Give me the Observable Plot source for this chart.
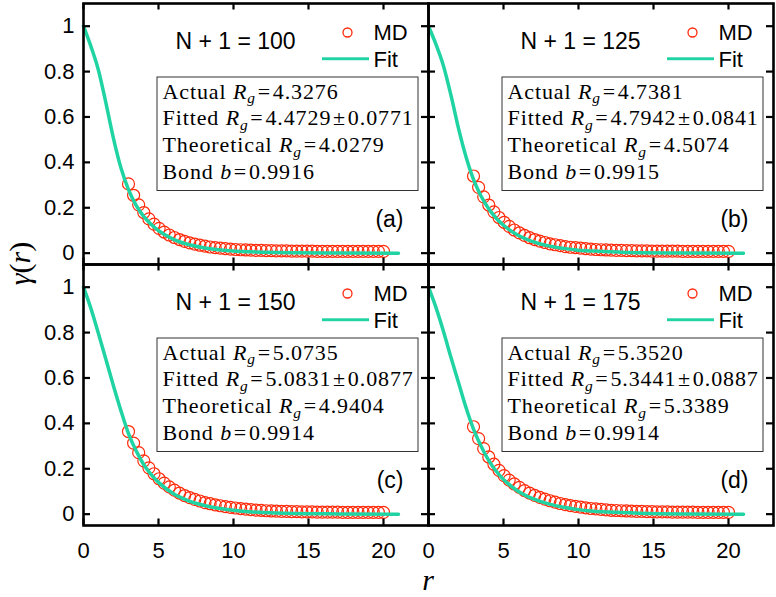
<!DOCTYPE html>
<html>
<head>
<meta charset="utf-8">
<script src="https://cdn.jsdelivr.net/npm/d3@7"></script>
<script src="https://cdn.jsdelivr.net/npm/@observablehq/plot@0.6"></script>
<style>
  body { margin: 0; background: #fff; }
  #chart { width: 776px; height: 597px; }
</style>
</head>
<body>
<div id="chart"></div>
<script>
// Panels and their statistics
const panelIds = ["a", "b", "c", "d"];
const chainLength = [100, 125, 150, 175];
const actualRg = ["4.3276", "4.7381", "5.0735", "5.3520"];
const fittedRg = ["4.4729", "4.7942", "5.0831", "5.3441"];
const fittedErr = ["0.0771", "0.0841", "0.0877", "0.0887"];
const theoryRg = ["4.0279", "4.5074", "4.9404", "5.3389"];
const bondB = ["0.9916", "0.9915", "0.9914", "0.9914"];

// Axis ticks
const xTicks = [0, 5, 10, 15, 20];
const yTicks = [0, 0.2, 0.4, 0.6, 0.8, 1];
const yTickLabels = ["0", "0.2", "0.4", "0.6", "0.8", "1"];

// Fitted curve, sampled in r
const fitR = [0, 0.5, 1, 1.5, 2, 2.5, 3, 3.5, 4, 4.5, 5, 6, 7, 8, 9, 10, 11, 12, 14, 17, 21];
const fitA = [1, 0.91, 0.805, 0.66, 0.505, 0.375, 0.28, 0.212, 0.163, 0.127, 0.099, 0.061, 0.038, 0.024, 0.015, 0.009, 0.006, 0.004, 0.002, 0.001, 0];
const fitB = [1, 0.92, 0.825, 0.695, 0.55, 0.425, 0.325, 0.252, 0.197, 0.155, 0.123, 0.078, 0.050, 0.032, 0.021, 0.013, 0.009, 0.006, 0.002, 0.001, 0];
const fitC = [1, 0.905, 0.795, 0.68, 0.565, 0.455, 0.355, 0.28, 0.22, 0.175, 0.14, 0.09, 0.059, 0.039, 0.026, 0.017, 0.011, 0.007, 0.003, 0.001, 0];
const fitD = [1, 0.91, 0.805, 0.69, 0.58, 0.47, 0.375, 0.30, 0.238, 0.19, 0.153, 0.10, 0.067, 0.045, 0.030, 0.020, 0.013, 0.009, 0.004, 0.001, 0];

// MD samples
const mdR = [3.00, 3.34, 3.68, 4.02, 4.36, 4.70, 5.04, 5.38, 5.72, 6.06, 6.40, 6.74, 7.08, 7.42, 7.76, 8.10, 8.44, 8.78, 9.12, 9.46, 9.80,
  10.14, 10.48, 10.82, 11.16, 11.50, 11.84, 12.18, 12.52, 12.86, 13.20, 13.54, 13.88, 14.22, 14.56, 14.90, 15.24, 15.58, 15.92,
  16.26, 16.60, 16.94, 17.28, 17.62, 17.96, 18.30, 18.64, 18.98, 19.32, 19.66, 20.00];
const mdA = [0.305, 0.255, 0.213, 0.179, 0.151, 0.128, 0.109, 0.093, 0.080, 0.069, 0.060, 0.052, 0.045, 0.040, 0.035, 0.031, 0.027, 0.024, 0.022, 0.020, 0.018,
  0.016, 0.015, 0.014, 0.013, 0.012, 0.012, 0.011, 0.011, 0.010, 0.010, 0.010, 0.009, 0.009, 0.009, 0.009, 0.009, 0.008, 0.008,
  0.008, 0.008, 0.008, 0.008, 0.008, 0.008, 0.008, 0.008, 0.008, 0.008, 0.008, 0.008];
const mdB = [0.340, 0.290, 0.248, 0.212, 0.182, 0.157, 0.136, 0.118, 0.102, 0.089, 0.078, 0.068, 0.060, 0.053, 0.047, 0.041, 0.037, 0.033, 0.029, 0.026, 0.024,
  0.022, 0.020, 0.018, 0.016, 0.015, 0.014, 0.013, 0.012, 0.012, 0.011, 0.011, 0.010, 0.010, 0.010, 0.009, 0.009, 0.009, 0.009,
  0.009, 0.009, 0.008, 0.008, 0.008, 0.008, 0.008, 0.008, 0.008, 0.008, 0.008, 0.008];
const mdC = [0.364, 0.313, 0.271, 0.235, 0.204, 0.178, 0.156, 0.137, 0.120, 0.106, 0.093, 0.082, 0.073, 0.065, 0.058, 0.051, 0.046, 0.041, 0.037, 0.033, 0.030,
  0.027, 0.024, 0.022, 0.020, 0.018, 0.017, 0.015, 0.014, 0.013, 0.012, 0.012, 0.011, 0.011, 0.010, 0.010, 0.010, 0.009, 0.009,
  0.009, 0.009, 0.009, 0.008, 0.008, 0.008, 0.008, 0.008, 0.008, 0.008, 0.008, 0.008];
const mdD = [0.385, 0.333, 0.289, 0.252, 0.220, 0.193, 0.170, 0.150, 0.133, 0.118, 0.104, 0.093, 0.083, 0.074, 0.066, 0.059, 0.053, 0.047, 0.042, 0.038, 0.034,
  0.031, 0.028, 0.025, 0.023, 0.021, 0.019, 0.017, 0.016, 0.015, 0.014, 0.013, 0.012, 0.012, 0.011, 0.011, 0.010, 0.010, 0.010,
  0.009, 0.009, 0.009, 0.009, 0.009, 0.008, 0.008, 0.008, 0.008, 0.008, 0.008, 0.008];

const fitSeries = [fitA, fitB, fitC, fitD];
const mdSeries = [mdA, mdB, mdC, mdD];

// --- tables for the marks (2 x 2 facet grid) ---
const panels = panelIds.map((id, i) => ({
  id, n: chainLength[i], col: i % 2, row: Math.floor(i / 2),
  lines: [
    `Actual *R*_{g}=${actualRg[i]}`,
    `Fitted *R*_{g}=${fittedRg[i]}±${fittedErr[i]}`,
    `Theoretical *R*_{g}=${theoryRg[i]}`,
    `Bond *b*=${bondB[i]}`
  ]
}));
const fitData = panels.flatMap((p, i) => fitR.map((r, k) => ({r, g: fitSeries[i][k], col: p.col, row: p.row})));
const mdData = panels.flatMap((p, i) => mdR.map((r, k) => ({r, g: mdSeries[i][k], col: p.col, row: p.row})));

// --- geometry ---
const W = 776, H = 597;
const mL = 83, mR = 3, mT = 2, mB = 72;
const FW = (W - mL - mR) / 2;   // facet width
const FH = (H - mT - mB) / 2;   // facet height
const tickLen = 7;

const RED = "#ff2a0a";
const TEAL = "#1fd3a3";
const SANS = "'Liberation Sans', Arial, Helvetica, sans-serif";
const SERIF = "'Liberation Serif', 'Times New Roman', serif";

const facetOpts = {fx: "col", fy: "row"};

const infoMarks = [0, 1, 2, 3].map(j => Plot.text(panels, {
  ...facetOpts,
  frameAnchor: "top-left",
  dx: 79, dy: 88 + j * 26.7,
  text: d => d.lines[j],
  textAnchor: "start", lineAnchor: "middle",
  fontFamily: SERIF, fontSize: 22, fill: "black"
}));

const chart = Plot.plot({
  width: W, height: H,
  marginLeft: mL, marginRight: mR, marginTop: mT, marginBottom: mB,
  style: {fontFamily: SANS, fontSize: "22px", background: "white", color: "black"},
  fx: {domain: [0, 1], padding: 0, axis: null},
  fy: {domain: [0, 1], padding: 0, axis: null},
  x: {domain: [0, 23], axis: null},
  y: {domain: [-0.05, 1.1], axis: null},
  marks: [
    // data
    Plot.dot(mdData, {x: "r", y: "g", ...facetOpts, r: 6, stroke: RED, strokeWidth: 1.2, fill: "none"}),
    Plot.line(fitData, {x: "r", y: "g", ...facetOpts, stroke: TEAL, strokeWidth: 3.5, curve: "monotone-x"}),

    // info box
    Plot.rect(panels, {...facetOpts, insetLeft: 74, insetRight: FW - 335, insetTop: 74, insetBottom: FH - 188,
      fill: "white", stroke: "#333", strokeWidth: 1}),
    ...infoMarks,

    // titles and panel letters
    Plot.text(panels, {...facetOpts, frameAnchor: "top-left", dx: 152, dy: 38, text: d => `N + 1 = ${d.n}`,
      textAnchor: "middle", lineAnchor: "middle", fontSize: 23, fill: "black"}),
    Plot.text(panels, {...facetOpts, frameAnchor: "bottom-right", dx: -25, dy: -45, text: d => `(${d.id})`,
      textAnchor: "end", lineAnchor: "middle", fontSize: 23, fill: "black"}),

    // legend
    Plot.dot(panels, {...facetOpts, frameAnchor: "top-left", dx: 264, dy: 29, r: 4.5, stroke: RED, strokeWidth: 1.3, fill: "none"}),
    Plot.text(panels, {...facetOpts, frameAnchor: "top-left", dx: 290, dy: 29, text: () => "MD",
      textAnchor: "start", lineAnchor: "middle", fontSize: 22, fill: "black"}),
    Plot.rect(panels, {...facetOpts, insetLeft: 239, insetRight: FW - 286, insetTop: 54.3, insetBottom: FH - 57.7, fill: TEAL}),
    Plot.text(panels, {...facetOpts, frameAnchor: "top-left", dx: 290, dy: 56, text: () => "Fit",
      textAnchor: "start", lineAnchor: "middle", fontSize: 22, fill: "black"}),

    // inward ticks on all four sides
    Plot.tickX(xTicks, {x: d => d, stroke: "black", strokeWidth: 2.2, insetTop: FH - tickLen}),
    Plot.tickX(xTicks, {x: d => d, stroke: "black", strokeWidth: 2.2, insetBottom: FH - tickLen}),
    Plot.tickY(yTicks, {y: d => d, stroke: "black", strokeWidth: 2.2, insetRight: FW - tickLen}),
    Plot.tickY(yTicks, {y: d => d, stroke: "black", strokeWidth: 2.2, insetLeft: FW - tickLen}),
    Plot.frame({stroke: "black", strokeWidth: 2.6}),

    // tick labels (bottom row / left column only)
    Plot.axisX(xTicks, {tickSize: 0, tickPadding: 17, fontSize: 22, fill: "black", label: null}),
    Plot.axisY(yTicks, {tickSize: 0, tickPadding: 9, fontSize: 22, fill: "black", label: null,
      tickFormat: d => yTickLabels[yTicks.indexOf(d)]})
  ]
});

// Rich text: *x* is italic, _{x} is an italic subscript; = and ± get a little math spacing
const SVGNS = "http://www.w3.org/2000/svg";
function richText(el) {
  const src = el.textContent;
  el.textContent = "";
  el.setAttribute("letter-spacing", "0.9");
  const re = /\*([^*]+)\*|_\{([^}]+)\}|([^*_]+)/g;
  let m, pendingDy = null, pendingDx = null;
  const add = (txt, attrs) => {
    const t = document.createElementNS(SVGNS, "tspan");
    t.textContent = txt;
    for (const k in attrs) t.setAttribute(k, attrs[k]);
    if (pendingDy != null && !("dy" in attrs)) { t.setAttribute("dy", pendingDy); pendingDy = null; }
    if (pendingDx != null && !("dx" in attrs)) { t.setAttribute("dx", pendingDx); pendingDx = null; }
    el.appendChild(t);
  };
  while ((m = re.exec(src))) {
    if (m[1]) add(m[1], {"font-style": "italic"});
    else if (m[2]) { add(m[2], {"font-style": "italic", "font-size": "70%", "dy": "0.3em"}); pendingDy = "-0.21em"; }
    else {
      for (const part of m[3].split(/([=±])/)) {
        if (!part) continue;
        if (part === "=" || part === "±") { add(part, {"dx": "0.08em"}); pendingDx = "0.08em"; }
        else add(part, {});
      }
    }
  }
}
d3.select(chart).selectAll("text")
  .filter(function() { return /\*|_\{/.test(this.textContent); })
  .each(function() { richText(this); });

// Shared axis titles
const svg = d3.select(chart);
const ylab = svg.append("text")
  .attr("transform", `translate(30, ${mT + FH}) rotate(-90)`)
  .attr("text-anchor", "middle")
  .attr("font-family", SERIF).attr("font-size", 30).attr("fill", "black");
ylab.append("tspan").attr("font-style", "italic").text("γ");
ylab.append("tspan").text("(");
ylab.append("tspan").attr("font-style", "italic").text("r");
ylab.append("tspan").text(")");
svg.append("text")
  .attr("x", mL + FW).attr("y", 590)
  .attr("text-anchor", "middle")
  .attr("font-family", SERIF).attr("font-size", 30).attr("font-style", "italic").attr("fill", "black")
  .text("r");

document.getElementById("chart").appendChild(chart);
</script>
</body>
</html>
